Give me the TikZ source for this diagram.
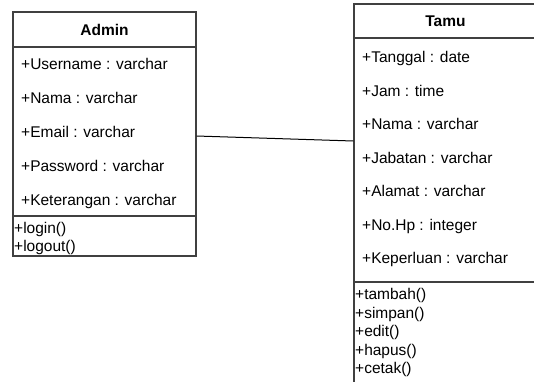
\documentclass[tikz,border=0pt]{standalone}
\usepackage{fontspec}
\setmainfont{Liberation Sans}
\usetikzlibrary{positioning}

\begin{document}
\begin{tikzpicture}[x=1pt,y=-1pt]
  \tikzset{classbox/.style = {draw=black!75, line width=1.1pt, minimum width=183pt, inner sep=0pt}}
  \tikzset{sep/.style      = {draw=black!75, line width=1.1pt}}
  \tikzset{attr/.style     = {anchor=base west, inner sep=0pt, font=\fontsize{15.5}{18}\selectfont}}
  \tikzset{title/.style    = {anchor=base, inner sep=0pt, font=\fontsize{15.5}{18}\selectfont\bfseries}}
  \tikzset{assoc/.style    = {draw=black, line width=1pt}}
  \useasboundingbox (0,0) rectangle (534,381);
  \clip (0,0) rectangle (534,381);

  % class Admin
  \node[classbox, minimum height=244pt] (admin) at (104.5,134) {};
  \node[title] (admint) at (104.5,35) {Admin};
  \draw[sep] (13,47) -- (196,47);
  \draw[sep] (13,216) -- (196,216);
  \foreach \t [count=\i] in {Username : varchar, Nama : varchar, Email : varchar,
                             Password : varchar, Keterangan : varchar}
    \node[attr] (adma\i) at (21,35.5+34*\i) {+\t};
  \foreach \t [count=\i] in {login(), logout()}
    \node[attr] (admm\i) at (14,215.5+18*\i) {+\t};

  % class Tamu (runs past the page edge)
  \node[classbox, minimum height=396pt] (tamu) at (445.5,202) {};
  \node[title] (tamut) at (445.5,26.5) {Tamu};
  \draw[sep] (354,38) -- (537,38);
  \draw[sep] (354,282) -- (537,282);
  \foreach \t [count=\i] in {Tanggal : date, Jam : time, Nama : varchar, Jabatan : varchar,
                             Alamat : varchar, No.Hp : integer, Keperluan : varchar}
    \node[attr] (tamua\i) at (362,29+33.5*\i) {+\t};
  \foreach \t [count=\i] in {tambah(), simpan(), edit(), hapus(), cetak()}
    \node[attr] (tamum\i) at (355,281+18.5*\i) {+\t};

  % association
  \draw[assoc] ([yshift=-2pt]admin.east) -- ([yshift=61pt]tamu.west);
\end{tikzpicture}
\end{document}
